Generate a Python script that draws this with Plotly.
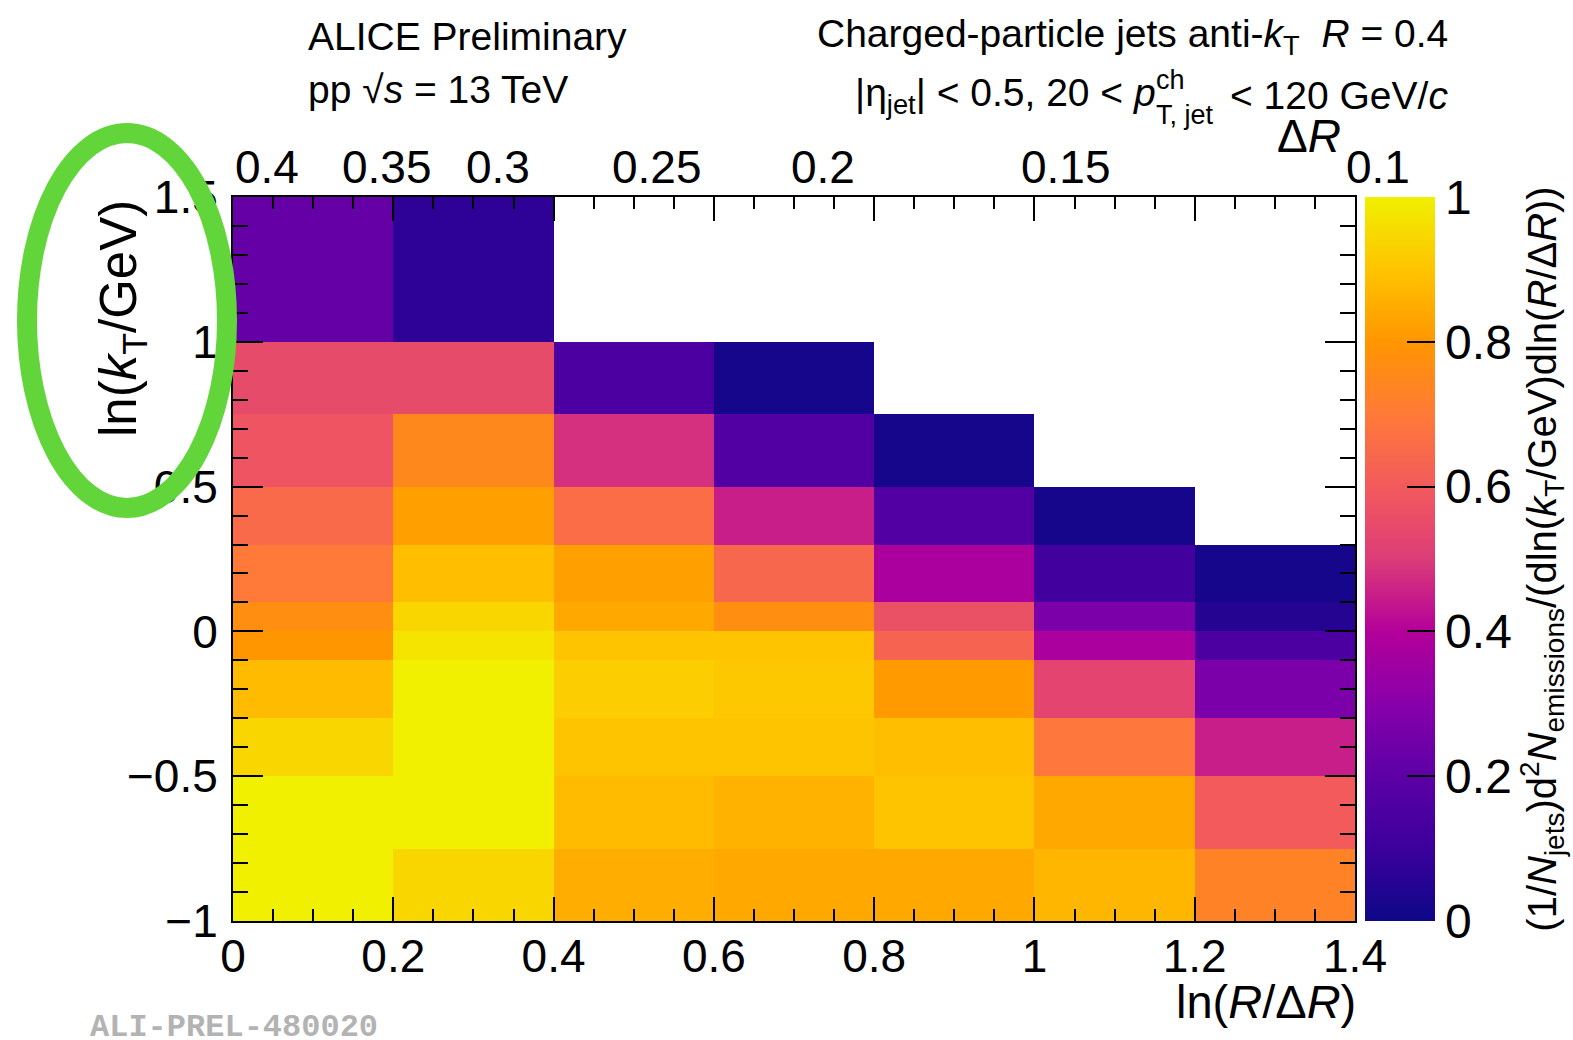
import numpy as np
import plotly.graph_objects as go

# ---------------- data ----------------
x_edges = [0.0, 0.2, 0.4, 0.6, 0.8, 1.0, 1.2, 1.4]          # ln(R/dR) bin edges
y_edges = [-1.0, -0.75, -0.5, -0.3, -0.1, 0.0, 0.1, 0.3, 0.5, 0.75, 1.0, 1.5]  # ln(kT/GeV) bin edges

# rows from bottom (ln kT = -1) to top (ln kT = 1.5); columns from ln(R/dR)=0 to 1.4
row_m100_m075 = [1.00, 0.94, 0.85, 0.84, 0.84, 0.87, 0.73]
row_m075_m050 = [1.00, 1.00, 0.88, 0.86, 0.90, 0.84, 0.60]
row_m050_m030 = [0.94, 1.00, 0.90, 0.90, 0.89, 0.69, 0.45]
row_m030_m010 = [0.88, 1.00, 0.92, 0.91, 0.81, 0.53, 0.27]
row_m010_p000 = [0.80, 0.97, 0.90, 0.90, 0.63, 0.38, 0.15]
row_p000_p010 = [0.77, 0.94, 0.84, 0.77, 0.57, 0.27, 0.05]
row_p010_p030 = [0.70, 0.89, 0.82, 0.64, 0.38, 0.12, 0.02]
row_p030_p050 = [0.65, 0.82, 0.66, 0.45, 0.17, 0.02, None]
row_p050_p075 = [0.58, 0.75, 0.48, 0.17, 0.02, None, None]
row_p075_p100 = [0.55, 0.55, 0.15, 0.02, None, None, None]
row_p100_p150 = [0.22, 0.07, None, None, None, None, None]

z_values = [row_m100_m075, row_m075_m050, row_m050_m030, row_m030_m010,
            row_m010_p000, row_p000_p010, row_p010_p030, row_p030_p050,
            row_p050_p075, row_p075_p100, row_p100_p150]

jet_R = 0.4
delta_R_labels = [0.4, 0.35, 0.3, 0.25, 0.2, 0.15, 0.1]
x_tickvals = [0, 0.2, 0.4, 0.6, 0.8, 1.0, 1.2, 1.4]
y_tickvals = [-1, -0.5, 0, 0.5, 1, 1.5]
cb_tickvals = [0, 0.2, 0.4, 0.6, 0.8, 1.0]

# ---------------- style ----------------
FONT = "Liberation Sans"
palette = [
    [0.0, "#0d0887"], [0.1, "#3c009c"], [0.2, "#5c00a6"], [0.3, "#8800aa"],
    [0.4, "#b4009a"], [0.5, "#dc3c78"], [0.6, "#f25a5c"], [0.7, "#ff7a38"],
    [0.8, "#ff9600"], [0.9, "#ffc400"], [1.0, "#f0f000"],
]

W, H = 1573, 1040
L, R, T, B = 233, 218, 197, 119
PW, PH = W - L - R, H - T - B


def px(xp):
    return (xp - L) / PW


def py(yp):
    return (H - B - yp) / PH


fig = go.Figure()
fig.add_trace(go.Heatmap(
    x=x_edges, y=y_edges, z=z_values, zmin=0, zmax=1,
    colorscale=palette, hoverongaps=False,
    colorbar=dict(
        x=px(1365), xanchor="left", y=0.5, yanchor="middle", len=1.0,
        lenmode="fraction", thickness=70, thicknessmode="pixels",
        outlinewidth=0, xpad=0, ypad=0,
        ticks="inside", ticklen=28, tickwidth=2, tickcolor="black",
        tickvals=cb_tickvals, tickfont=dict(family=FONT, size=48, color="black"),
        title=dict(
            text="(1/<i>N</i><sub>jets</sub>)d<sup>2</sup><i>N</i><sub>emissions</sub>"
                 "/(dln(<i>k</i><sub>T</sub>/GeV)dln(<i>R</i>/Δ<i>R</i>))",
            side="right", font=dict(family=FONT, size=40, color="black")),
    ),
))

axis_common = dict(
    showline=True, linewidth=2, linecolor="black", mirror="ticks",
    ticks="inside", tickwidth=2, tickcolor="black",
    showgrid=False, zeroline=False,
    tickfont=dict(family=FONT, size=46, color="black"),
)
fig.update_xaxes(range=[0, 1.4], tickvals=x_tickvals, ticklen=24,
                 minor=dict(dtick=0.05, tick0=0, ticks="inside", ticklen=12, tickwidth=2, tickcolor="black"),
                 ticklabelstandoff=-6, **axis_common)
fig.update_yaxes(range=[-1, 1.5], tickvals=y_tickvals, ticklen=30,
                 minor=dict(dtick=0.1, tick0=0, ticks="inside", ticklen=15, tickwidth=2, tickcolor="black"),
                 ticklabelstandoff=4, **axis_common)

ann = []
# top Delta R axis labels (left-aligned at ln(R/dR))
for d in delta_R_labels:
    ann.append(dict(x=float(np.log(jet_R / d)), xref="x", y=1, yref="paper",
                    xanchor="left", yanchor="bottom", yshift=2, showarrow=False,
                    text=f"{d:g}", font=dict(family=FONT, size=46, color="black")))
ann.append(dict(x=px(1343), y=py(136), xref="paper", yref="paper", xanchor="right",
                yanchor="middle", showarrow=False, text="Δ<i>R</i>",
                font=dict(family=FONT, size=46, color="black")))
# axis titles
ann.append(dict(x=px(1358), y=py(1001), xref="paper", yref="paper", xanchor="right",
                yanchor="middle", showarrow=False, text="ln(<i>R</i>/Δ<i>R</i>)",
                font=dict(family=FONT, size=47, color="black")))
ann.append(dict(x=px(122), y=py(318), xref="paper", yref="paper", xanchor="center",
                yanchor="middle", showarrow=False, textangle=-90,
                text="ln(<i>k</i><sub>T</sub>/GeV)",
                font=dict(family=FONT, size=51, color="black")))
# header texts
hdr = dict(family=FONT, size=39, color="black")
ann.append(dict(x=px(306), y=py(37), xref="paper", yref="paper", xanchor="left",
                yanchor="middle", showarrow=False, text="ALICE Preliminary", font=hdr))
ann.append(dict(x=px(306), y=py(89), xref="paper", yref="paper", xanchor="left",
                yanchor="middle", showarrow=False, text="pp √<i>s</i> = 13 TeV", font=hdr))
ann.append(dict(x=px(1450), y=py(37), xref="paper", yref="paper", xanchor="right",
                yanchor="middle", showarrow=False,
                text="Charged-particle jets anti-<i>k</i><sub>T</sub>  <i>R</i> = 0.4", font=hdr))
ann.append(dict(x=px(1158), y=py(95), xref="paper", yref="paper", xanchor="right",
                yanchor="middle", showarrow=False,
                text="|η<sub>jet</sub>| < 0.5, 20 < <i>p</i>", font=hdr))
ann.append(dict(x=px(1154), y=py(80), xref="paper", yref="paper", xanchor="left",
                yanchor="middle", showarrow=False, text="ch",
                font=dict(family=FONT, size=27, color="black")))
ann.append(dict(x=px(1154), y=py(115), xref="paper", yref="paper", xanchor="left",
                yanchor="middle", showarrow=False, text="T, jet",
                font=dict(family=FONT, size=27, color="black")))
ann.append(dict(x=px(1450), y=py(95), xref="paper", yref="paper", xanchor="right",
                yanchor="middle", showarrow=False, text="< 120 GeV/<i>c</i>", font=hdr))
# preliminary ID
ann.append(dict(x=px(88), y=py(1027), xref="paper", yref="paper", xanchor="left",
                yanchor="middle", showarrow=False, text="<b>ALI-PREL-480020</b>",
                font=dict(family="Liberation Mono", size=32, color="#b3b3b3")))

fig.update_layout(
    width=W, height=H, autosize=False,
    margin=dict(l=L, r=R, t=T, b=B, pad=0, autoexpand=False),
    paper_bgcolor="white", plot_bgcolor="white",
    annotations=ann,
    shapes=[dict(type="circle", xref="paper", yref="paper", layer="above",
                 x0=px(27), x1=px(227), y0=py(508), y1=py(133),
                 line=dict(color="#62d53b", width=20))],
    showlegend=False,
)

fig.write_html("out.html")
